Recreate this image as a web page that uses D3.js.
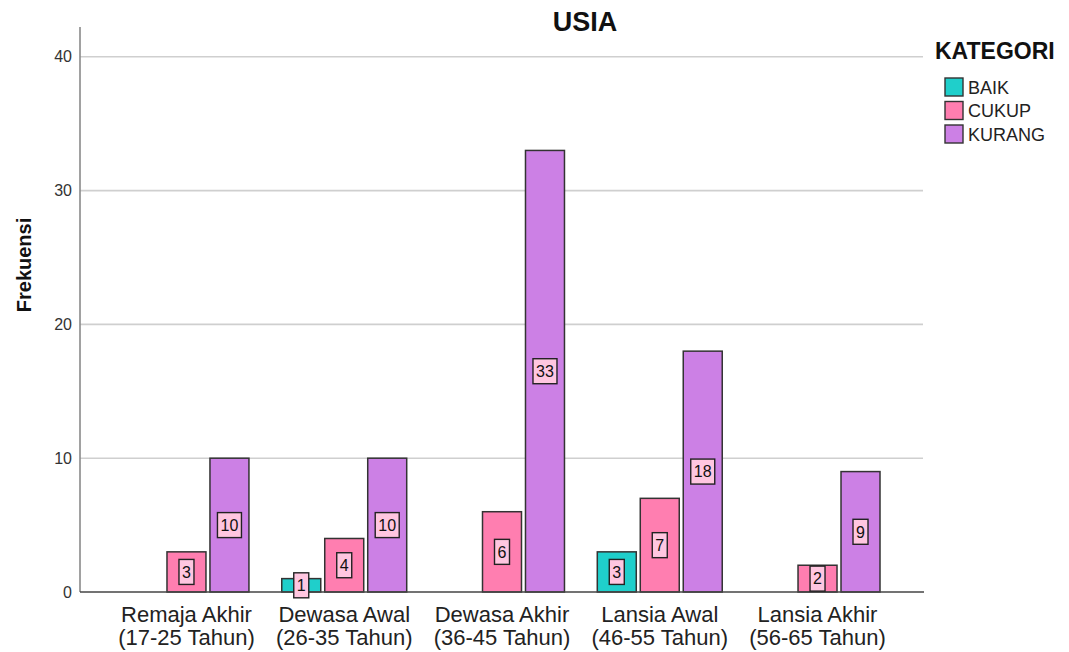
<!DOCTYPE html>
<html><head><meta charset="utf-8">
<script src="https://cdn.jsdelivr.net/npm/d3@7"></script>
<style>
html,body{margin:0;padding:0;background:#fff;}
svg{display:block;font-family:"Liberation Sans",Arial,sans-serif;}
</style></head>
<body>
<svg id="chart" width="1069" height="652"></svg>
<script>
const categories = ["Remaja Akhir|(17-25 Tahun)","Dewasa Awal|(26-35 Tahun)","Dewasa Akhir|(36-45 Tahun)","Lansia Awal|(46-55 Tahun)","Lansia Akhir|(56-65 Tahun)"];
const seriesNames = ["BAIK","CUKUP","KURANG"];
const baik   = [0, 1, 0, 3, 0];
const cukup  = [3, 4, 6, 7, 2];
const kurang = [10, 10, 33, 18, 9];
const yTicks = [0, 10, 20, 30, 40];
const colors = ["#1fcfcb","#ff7eb0","#cc80e5"];

const seriesValues = [baik, cukup, kurang];
const svg = d3.select("#chart");

const y = d3.scaleLinear().domain([0, 42.3]).range([592, 26]);
const x0 = d3.scaleBand().domain(categories).range([124, 880]).paddingInner(0.208).paddingOuter(0);
const x1 = d3.scaleBand().domain(seriesNames).range([0, x0.bandwidth()]).paddingInner(0.093).paddingOuter(0);

const plotLeft = 80, plotRight = 924;

// gridlines
svg.append("g").selectAll("line").data(yTicks.filter(d => d > 0)).join("line")
  .attr("x1", plotLeft).attr("x2", plotRight - 1)
  .attr("y1", d => y(d)).attr("y2", d => y(d))
  .attr("stroke", "#cfcfcf").attr("stroke-width", 1.6);

// y axis labels
const yAxis = d3.axisLeft(y).tickValues(yTicks).tickSize(0).tickPadding(8);
const gy = svg.append("g").attr("transform", `translate(${plotLeft},0)`).call(yAxis);
gy.select(".domain").remove();
gy.selectAll("text").attr("font-size", 16).attr("fill", "#333")
  .attr("font-family", "'Liberation Sans',Arial,sans-serif");

// left axis line
svg.append("line").attr("x1", plotLeft).attr("x2", plotLeft).attr("y1", y.range()[1] + 1).attr("y2", y(0))
  .attr("stroke", "#8a8a8a").attr("stroke-width", 1.6);

// bars
const data = [];
categories.forEach((c, i) => seriesNames.forEach((s, j) => {
  if (seriesValues[j][i] > 0) data.push({c, s, v: seriesValues[j][i], j});
}));

const bars = svg.append("g");
bars.selectAll("rect").data(data).join("rect")
  .attr("x", d => x0(d.c) + x1(d.s))
  .attr("y", d => y(d.v))
  .attr("width", x1.bandwidth())
  .attr("height", d => y(0) - y(d.v))
  .attr("fill", d => colors[d.j])
  .attr("stroke", "#333").attr("stroke-width", 1.5);

// bottom axis line
svg.append("line").attr("x1", plotLeft).attr("x2", plotRight).attr("y1", y(0)).attr("y2", y(0))
  .attr("stroke", "#444").attr("stroke-width", 1.5);

// value labels
const lbl = svg.append("g").selectAll("g").data(data).join("g")
  .attr("transform", d => `translate(${x0(d.c) + x1(d.s) + x1.bandwidth()/2},${y(d.v/2)})`);
lbl.append("rect")
  .attr("x", d => String(d.v).length > 1 ? -12 : -7.5)
  .attr("width", d => String(d.v).length > 1 ? 24 : 15)
  .attr("y", -12.5).attr("height", 25)
  .attr("fill", "#ffc6e0").attr("stroke", "#222").attr("stroke-width", 1.4);
lbl.append("text").attr("text-anchor", "middle").attr("dy", "0.36em")
  .attr("font-size", 16).attr("fill", "#111").text(d => d.v);

// category labels
const xl = svg.append("g").selectAll("text").data(categories).join("text")
  .attr("text-anchor", "middle")
  .attr("x", d => x0(d) + x0.bandwidth()/2)
  .attr("font-size", 22).attr("fill", "#222");
xl.append("tspan").attr("x", d => x0(d) + x0.bandwidth()/2).attr("y", 622).text(d => d.split("|")[0]);
xl.append("tspan").attr("x", d => x0(d) + x0.bandwidth()/2).attr("y", 645).text(d => d.split("|")[1]);

// title
svg.append("text").attr("x", 585).attr("y", 31).attr("text-anchor", "middle")
  .attr("font-size", 27).attr("font-weight", "bold").attr("fill", "#111").text("USIA");

// y title
svg.append("text").attr("transform", "translate(31,265) rotate(-90)").attr("text-anchor", "middle")
  .attr("font-size", 20).attr("font-weight", "bold").attr("fill", "#111").text("Frekuensi");

// legend
svg.append("text").attr("x", 935).attr("y", 59).attr("font-size", 23).attr("font-weight", "bold")
  .attr("fill", "#111").text("KATEGORI");
const lg = svg.append("g").selectAll("g").data(seriesNames).join("g")
  .attr("transform", (d, i) => `translate(945,${78 + i * 23.5})`);
lg.append("rect").attr("width", 18).attr("height", 18).attr("fill", (d, i) => colors[i])
  .attr("stroke", "#333").attr("stroke-width", 1.4);
lg.append("text").attr("x", 23).attr("y", 15.5).attr("font-size", 18).attr("fill", "#222").text(d => d);
</script>
</body></html>
